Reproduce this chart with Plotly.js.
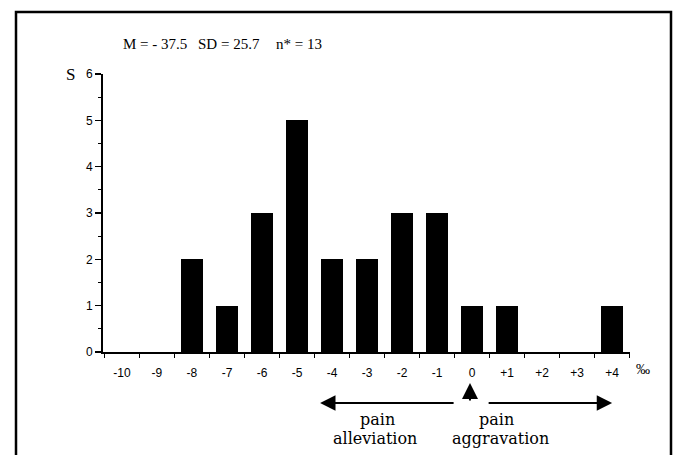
<!DOCTYPE html>
<html>
<head>
<meta charset="utf-8">
<script src="https://cdn.plot.ly/plotly-3.0.1.min.js"></script>
<style>html,body{margin:0;padding:0;background:#fff;}#chart{width:678px;height:455px;}</style>
</head>
<body>
<div id="chart"></div>
<script>
// Data
const categories = [-10, -9, -8, -7, -6, -5, -4, -3, -2, -1, 0, 1, 2, 3, 4];
const counts     = [0, 0, 2, 1, 3, 5, 2, 2, 3, 3, 1, 1, 0, 0, 1];
const tickLabels = ["-10", "-9", "-8", "-7", "-6", "-5", "-4", "-3", "-2", "-1", "0", "+1", "+2", "+3", "+4"];
const yTicks = [0, 1, 2, 3, 4, 5, 6];
const statsText = ["M = - 37.5", "SD = 25.7", "n* = 13"];
const yLabel = "S";
const unitLabel = "‰";
const leftText = ["pain", "alleviation"];
const rightText = ["pain", "aggravation"];

const serif = "DejaVu Serif, Liberation Serif, serif";
const tserif = "Liberation Serif, Times New Roman, serif";
const sans = "Liberation Sans, Arial, sans-serif";

const trace = {
  type: "bar",
  x: categories,
  y: counts,
  width: 0.62,
  marker: {color: "#000", line: {width: 0}},
  hoverinfo: "none"
};

// pixel helpers for decoration placement (paper coords)
const L = 103, R = 48, T = 74, B = 103, W = 678, H = 455;
const pw = W - L - R, ph = H - T - B;
const px = p => (p - L) / pw;
const py = p => (H - B - p) / ph;

const annotations = [
  {xref: "paper", yref: "paper", x: px(121), y: py(44), xanchor: "left", yanchor: "middle",
   text: statsText[0], showarrow: false, font: {family: tserif, size: 15, color: "#000"}},
  {xref: "paper", yref: "paper", x: px(196), y: py(44), xanchor: "left", yanchor: "middle",
   text: statsText[1], showarrow: false, font: {family: tserif, size: 15, color: "#000"}},
  {xref: "paper", yref: "paper", x: px(274), y: py(44), xanchor: "left", yanchor: "middle",
   text: statsText[2], showarrow: false, font: {family: tserif, size: 15, color: "#000"}},
  {xref: "paper", yref: "paper", x: px(70), y: py(74), xanchor: "center", yanchor: "middle",
   text: yLabel, showarrow: false, font: {family: tserif, size: 17, color: "#000"}},
  {xref: "paper", yref: "paper", x: px(643), y: py(369), xanchor: "center", yanchor: "middle",
   text: unitLabel, showarrow: false, font: {family: tserif, size: 14, color: "#000"}},
  // arrows
  {xref: "x", yref: "paper", x: -4.34, y: py(403), ax: 135, ay: 0, text: "",
   showarrow: true, arrowhead: 2, arrowsize: 1.4, arrowwidth: 2.2, arrowcolor: "#000"},
  {xref: "x", yref: "paper", x: 4.0, y: py(403), ax: -125, ay: 0, text: "",
   showarrow: true, arrowhead: 2, arrowsize: 1.4, arrowwidth: 2.2, arrowcolor: "#000"},
  {xref: "x", yref: "paper", x: -0.06, y: py(383), ax: 0, ay: 19, text: "",
   showarrow: true, arrowhead: 2, arrowsize: 1.6, arrowwidth: 2, arrowcolor: "#000"},
  // arrow labels
  {xref: "paper", yref: "paper", x: px(377), y: py(419), xanchor: "center", yanchor: "middle",
   text: leftText[0], showarrow: false, font: {family: serif, size: 16, color: "#000"}},
  {xref: "paper", yref: "paper", x: px(375), y: py(438), xanchor: "center", yanchor: "middle",
   text: leftText[1], showarrow: false, font: {family: serif, size: 16, color: "#000"}},
  {xref: "paper", yref: "paper", x: px(496), y: py(419), xanchor: "center", yanchor: "middle",
   text: rightText[0], showarrow: false, font: {family: serif, size: 16, color: "#000"}},
  {xref: "paper", yref: "paper", x: px(500), y: py(438), xanchor: "center", yanchor: "middle",
   text: rightText[1], showarrow: false, font: {family: serif, size: 16, color: "#000"}}
];

const shapes = [
  {type: "rect", xref: "paper", yref: "paper", x0: px(16), x1: px(671), y0: py(470), y1: py(12),
   line: {color: "#000", width: 2.5}, fillcolor: "rgba(0,0,0,0)"}
];

const layout = {
  width: W, height: H,
  margin: {l: L, r: R, t: T, b: B, pad: 0},
  paper_bgcolor: "#fff", plot_bgcolor: "#fff",
  showlegend: false,
  bargap: 0,
  xaxis: {
    range: [-10.54, 4.51],
    tickmode: "array", tickvals: categories, ticktext: tickLabels,
    ticks: "", ticklabelstandoff: 9,
    tickfont: {family: sans, size: 12, color: "#000"},
    showline: true, linecolor: "#000", linewidth: 1.8,
    showgrid: false, zeroline: false, fixedrange: true,
    minor: {tickmode: "linear", tick0: 0.5, dtick: 1, ticks: "outside", ticklen: 4,
            tickwidth: 1.5, tickcolor: "#000", showgrid: false}
  },
  yaxis: {
    range: [0, 6],
    tickmode: "array", tickvals: yTicks,
    ticks: "outside", ticklen: 6, tickwidth: 1.5, tickcolor: "#000",
    tickfont: {family: sans, size: 12, color: "#000"},
    showline: true, linecolor: "#000", linewidth: 1.8,
    showgrid: false, zeroline: false, fixedrange: true,
    minor: {tickmode: "linear", tick0: 0.5, dtick: 1, ticks: "outside", ticklen: 3,
            tickwidth: 1.3, tickcolor: "#000", showgrid: false}
  },
  annotations: annotations,
  shapes: shapes
};

Plotly.newPlot("chart", [trace], layout, {displayModeBar: false, staticPlot: true});
</script>
</body>
</html>
